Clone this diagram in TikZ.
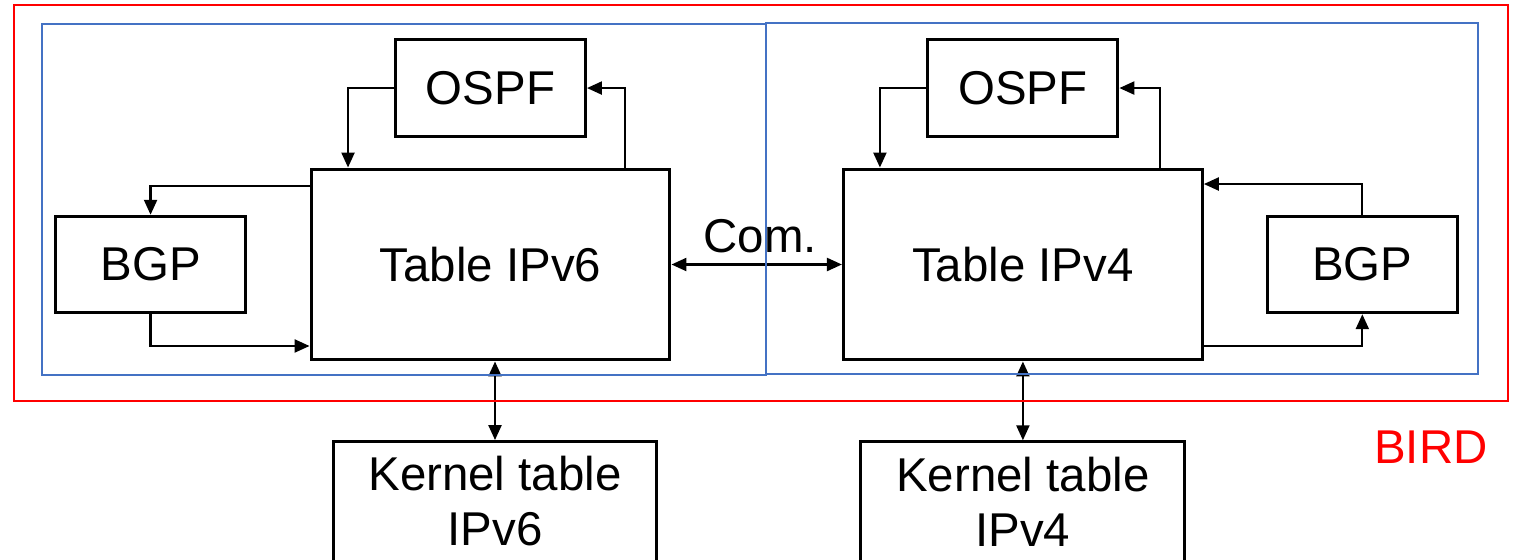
\documentclass[tikz,border=0pt]{standalone}
\usepackage{fontspec}
\setmainfont{Liberation Sans}
\usepackage{tikz}
\usetikzlibrary{%
  positioning
 ,arrows.meta
 ,calc
}
\definecolor{frblue}{RGB}{68,114,196}
\tikzstyle{aut}=[x=0.02cm,y=-0.02cm,node distance=2cm,on grid,font=\fontsize{27}{31.3}\selectfont,>={Triangle[length=0.3cm,width=0.26cm]}]
\tikzstyle{st}=[rectangle,draw=black,line width=1.7pt,inner sep=0pt]
\tikzstyle{tab}=[st,minimum width=7.18cm,minimum height=3.82cm]
\tikzstyle{proto}=[st,minimum width=3.8cm,minimum height=1.93cm]
\tikzstyle{kern}=[st,minimum width=6.48cm,align=center,inner ysep=0.3cm]
\tikzstyle{lnk}=[line width=1.3pt]
\tikzstyle{fr}=[line width=1.5pt]

\begin{document}
\begin{tikzpicture}[aut]
  \useasboundingbox (0,0) rectangle (1521,559);
  \node[tab]   (tab6) at (490.5,264.5)          {Table IPv6};
  \node[tab]   (tab4) [right=10.65cm of tab6]  {Table IPv4};
  \node[proto] (ospf6) [above=3.53cm of tab6]  {OSPF};
  \node[proto] (ospf4) [above=3.53cm of tab4]  {OSPF};
  \node[proto] (bgp6) [left=6.8cm of tab6]     {BGP};
  \node[proto] (bgp4) [right=6.79cm of tab4]   {BGP};
  \node[kern]  (kern6) [below=4.74cm of tab6,xshift=0.09cm] {Kernel table\\IPv6};
  \node[kern]  (kern4) [below=4.74cm of tab4] {Kernel table\\IPv4};
%
  \draw[lnk,->] (ospf6.west) -| ([xshift=-2.85cm]tab6.north);
  \draw[lnk,->] ([xshift=2.69cm]tab6.north) |- (ospf6.east);
  \draw[lnk,->] ([yshift=1.57cm]tab6.west) -| (bgp6.north);
  \draw[lnk,->] (bgp6.south) |- ([yshift=-1.63cm]tab6.west);
  \draw[lnk,->] (ospf4.west) -| ([xshift=-2.86cm]tab4.north);
  \draw[lnk,->] ([xshift=2.74cm]tab4.north) |- (ospf4.east);
  \draw[lnk,->] (bgp4.north) |- ([yshift=1.61cm]tab4.east);
  \draw[lnk,->] ([yshift=-1.63cm]tab4.east) -| (bgp4.south);
  \draw[lnk,<->] (tab6.east) -- node[above,inner sep=0.2cm,xshift=0.07cm] (com) {Com.} (tab4.west);
  \draw[lnk,<->] (tab6.south -| kern6.north) -- (kern6.north);
  \draw[lnk,<->] (tab4.south -| kern4.north) -- (kern4.north);
%
  \draw[fr,red] (14,5) rectangle (1508,401);
  \draw[fr,frblue] (42,24) rectangle (766,375);
  \draw[fr,frblue] (766,23) rectangle (1478,374);
  \node[red] (bird) at (1431,447) {BIRD};
\end{tikzpicture}
\end{document}
